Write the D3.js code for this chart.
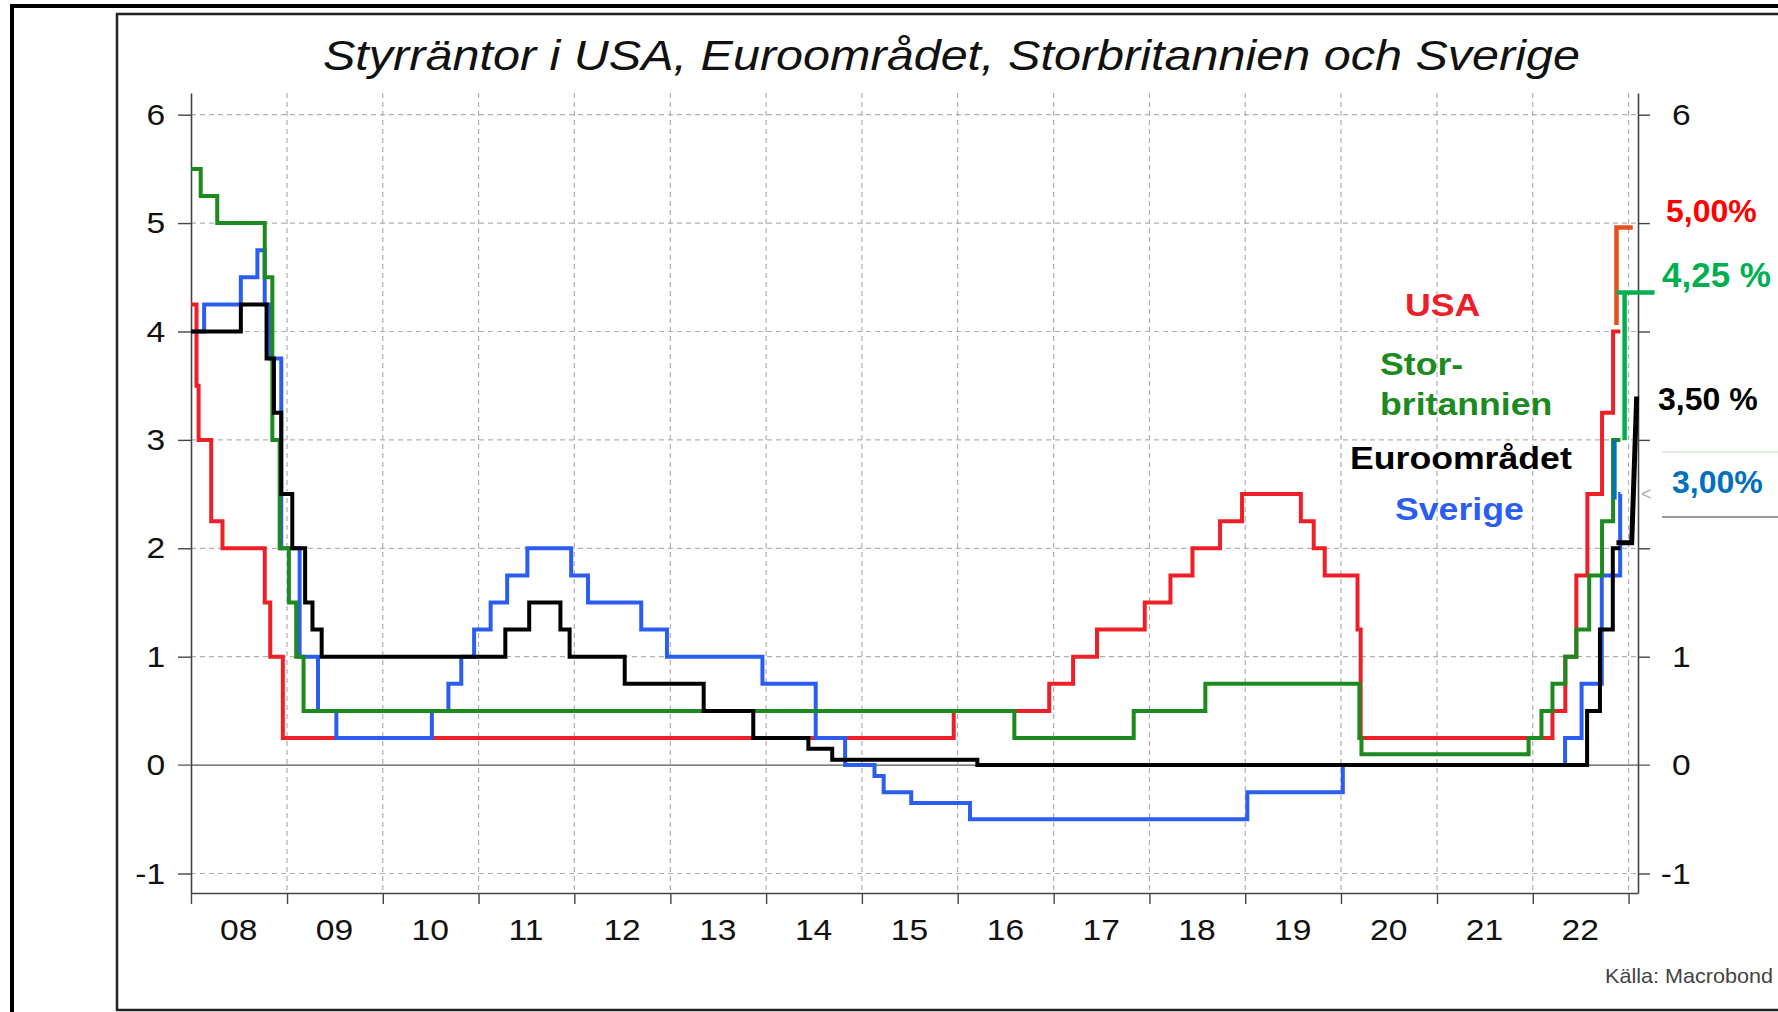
<!DOCTYPE html>
<html>
<head>
<meta charset="utf-8">
<script src="https://cdn.jsdelivr.net/npm/d3@7"></script>
<style>
  body { margin: 0; background: #fff; }
  text { font-family: "Liberation Sans", Arial, sans-serif; }
</style>
</head>
<body>
<script>
// Styrräntor (trappsteg: datum då räntan ändrades, ny nivå)
var usaDates = ["2008-01-01","2008-01-22","2008-01-30","2008-03-18","2008-04-30","2008-10-08","2008-10-29","2008-12-16",
    "2015-12-17","2016-12-15","2017-03-16","2017-06-15","2017-12-14","2018-03-22","2018-06-14","2018-09-27","2018-12-20",
    "2019-08-01","2019-09-19","2019-10-31","2020-03-04","2020-03-16","2022-03-17","2022-05-05","2022-06-16","2022-07-28",
    "2022-09-22","2022-11-03"];
var usaValues = [4.25,3.5,3.0,2.25,2.0,1.5,1.0,0.25,
    0.5,0.75,1.0,1.25,1.5,1.75,2.0,2.25,2.5,
    2.25,2.0,1.75,1.25,0.25,0.5,1.0,1.75,2.5,
    3.25,4.0];

var ukDates = ["2008-01-01","2008-02-07","2008-04-10","2008-10-08","2008-11-06","2008-12-04","2009-01-08","2009-02-05",
    "2009-03-05","2016-08-04","2017-11-02","2018-08-02","2020-03-11","2020-03-19","2021-12-16","2022-02-03","2022-03-17",
    "2022-05-05","2022-06-16","2022-08-04","2022-09-22","2022-11-03"];
var ukValues = [5.5,5.25,5.0,4.5,3.0,2.0,1.5,1.0,
    0.5,0.25,0.5,0.75,0.25,0.1,0.25,0.5,0.75,
    1.0,1.25,1.75,2.25,3.0];

var euroDates = ["2008-01-01","2008-07-09","2008-10-15","2008-11-12","2008-12-10","2009-01-21","2009-03-11","2009-04-08",
    "2009-05-13","2011-04-13","2011-07-13","2011-11-09","2011-12-14","2012-07-11","2013-05-08","2013-11-13","2014-06-11",
    "2014-09-10","2016-03-16","2022-07-27","2022-09-14","2022-11-02"];
var euroValues = [4.0,4.25,3.75,3.25,2.5,2.0,1.5,1.25,
    1.0,1.25,1.5,1.25,1.0,0.75,0.5,0.25,0.15,
    0.05,0.0,0.5,1.25,2.0];

var sweDates = ["2008-01-01","2008-02-20","2008-07-09","2008-09-10","2008-10-08","2008-10-29","2008-12-10","2009-02-18",
    "2009-04-29","2009-07-08","2010-07-07","2010-09-08","2010-10-27","2010-12-15","2011-02-16","2011-04-20","2011-07-06",
    "2011-12-20","2012-02-22","2012-09-12","2012-12-19","2013-12-18","2014-07-09","2014-10-29","2015-02-18","2015-03-25",
    "2015-07-08","2016-02-17","2019-01-09","2020-01-08","2022-05-04","2022-07-06","2022-09-21","2022-11-30"];
var sweValues = [4.0,4.25,4.5,4.75,4.25,3.75,2.0,1.0,
    0.5,0.25,0.5,0.75,1.0,1.25,1.5,1.75,2.0,
    1.75,1.5,1.25,1.0,0.75,0.25,0.0,-0.1,-0.25,
    -0.35,-0.5,-0.25,0.0,0.25,0.75,1.75,2.5];

var lastDate = "2022-12-01";

// Handritade tillägg med senaste nivåer
var usaNoteDates = ["2022-11-16","2022-11-16","2023-01-17"];
var usaNoteValues = [4.06, 4.96, 4.96];
var ukNoteDates = ["2022-12-17","2022-12-17","2022-11-16","2023-04-10"];
var ukNoteValues = [3.0, 4.36, 4.36, 4.36];
var euroNoteDates = ["2022-11-16","2023-01-13","2023-02-01"];
var euroNoteValues = [2.05, 2.05, 3.4];
var sweNoteDates = ["2022-11-09","2022-11-09"];
var sweNoteValues = [2.45, 3.0];

var yTicks = [-1, 0, 1, 2, 3, 4, 5, 6];
var yGrid = [-1, 1, 2, 3, 4, 5, 6];
var rightLabels = [-1, 0, 1, 6];
var yearTicks = d3.range(2008, 2024);
var yearLabels = ["08","09","10","11","12","13","14","15","16","17","18","19","20","21","22"];

var parse = d3.timeParse("%Y-%m-%d");

function steps(dates, values) {
    var pts = dates.map(function(d, i) { return { date: parse(d), value: values[i] }; });
    pts.push({ date: parse(lastDate), value: values[values.length - 1] });
    return pts;
}
function points(dates, values) {
    return dates.map(function(d, i) { return { date: parse(d), value: values[i] }; });
}
// vanligt bindestreck som minustecken, som i originalet
function fmt(d) { return String(d); }

var width = 1778, height = 1012;
var plotLeft = 191, plotRight = 1638, plotTop = 93, plotBottom = 893;

var svg = d3.select("body").append("svg")
    .attr("width", width)
    .attr("height", height);

// Ramar
svg.append("rect")
    .attr("x", 12).attr("y", 6).attr("width", 1800).attr("height", 1100)
    .attr("fill", "none").attr("stroke", "#000").attr("stroke-width", 4);
svg.append("rect")
    .attr("x", 117).attr("y", 14).attr("width", 1800).attr("height", 996)
    .attr("fill", "none").attr("stroke", "#222").attr("stroke-width", 2.5);

var x = d3.scaleTime()
    .domain([parse("2008-01-01"), parse("2023-02-06")])
    .range([plotLeft, plotRight]);

var y = d3.scaleLinear()
    .domain([-1.18, 6.2])
    .range([plotBottom, plotTop]);

// Rutnät
svg.append("g").selectAll("line")
    .data(yGrid)
    .enter().append("line")
    .attr("x1", plotLeft).attr("x2", plotRight)
    .attr("y1", function(d) { return y(d); })
    .attr("y2", function(d) { return y(d); })
    .attr("stroke", "#b0b0b0").attr("stroke-width", 1.2)
    .attr("stroke-dasharray", "5,4");

svg.append("g").selectAll("line")
    .data(yearTicks.slice(1))
    .enter().append("line")
    .attr("x1", function(d) { return x(new Date(d, 0, 1)); })
    .attr("x2", function(d) { return x(new Date(d, 0, 1)); })
    .attr("y1", plotTop).attr("y2", plotBottom)
    .attr("stroke", "#b0b0b0").attr("stroke-width", 1.2)
    .attr("stroke-dasharray", "5,4");

// Nollinje
svg.append("line")
    .attr("x1", plotLeft - 13).attr("x2", plotRight + 12)
    .attr("y1", y(0)).attr("y2", y(0))
    .attr("stroke", "#555").attr("stroke-width", 1.3);

// Y-axlar
var yLeft = svg.append("g")
    .attr("transform", "translate(" + plotLeft + ",0)")
    .call(d3.axisLeft(y).tickValues(yTicks).tickSize(13).tickSizeOuter(0).tickPadding(10).tickFormat(fmt));

var yRight = svg.append("g")
    .attr("transform", "translate(" + plotRight + ",0)")
    .call(d3.axisRight(y).tickValues(yTicks).tickSize(12).tickSizeOuter(0)
        .tickFormat(function(d) { return rightLabels.indexOf(d) >= 0 ? fmt(d) : ""; }));

yRight.selectAll("text")
    .attr("x", 47)
    .attr("text-anchor", "end");

// X-axel
var xAxis = svg.append("g")
    .attr("transform", "translate(0," + plotBottom + ")")
    .call(d3.axisBottom(x)
        .tickValues(yearTicks.map(function(d) { return new Date(d, 0, 1); }))
        .tickSize(11).tickSizeOuter(0).tickFormat(""));

[yLeft, yRight, xAxis].forEach(function(g) {
    g.select(".domain").attr("stroke", "#444").attr("stroke-width", 1.6);
    g.selectAll(".tick line").attr("stroke", "#444").attr("stroke-width", 1.4);
    g.selectAll("text")
        .style("font-size", "30px")
        .style("font-family", "'Liberation Sans', Arial, sans-serif")
        .attr("fill", "#111")
        .attr("transform", "scale(1.12,1)");
});
yLeft.selectAll(".tick").filter(function(d) { return d === 0; }).select("line").remove();
yRight.selectAll(".tick").filter(function(d) { return d === 0; }).select("line").remove();

svg.append("g").selectAll("text")
    .data(yearLabels)
    .enter().append("text")
    .attr("transform", function(d, i) {
        return "translate(" + x(new Date(2008 + i, 6, 1)) + ",940) scale(1.12,1)";
    })
    .attr("text-anchor", "middle")
    .style("font-size", "30px")
    .attr("fill", "#111")
    .text(function(d) { return d; });

// Serier
var line = d3.line()
    .x(function(d) { return x(d.date); })
    .y(function(d) { return y(d.value); })
    .curve(d3.curveStepAfter);

var series = [
    { pts: steps(usaDates, usaValues), color: "#ee2027" },
    { pts: steps(sweDates, sweValues), color: "#2b5ef0" },
    { pts: steps(ukDates, ukValues), color: "#1c8a1f" },
    { pts: steps(euroDates, euroValues), color: "#000" }
];

series.forEach(function(s) {
    svg.append("path")
        .datum(s.pts)
        .attr("d", line)
        .attr("fill", "none")
        .attr("stroke", s.color)
        .attr("stroke-width", 4);
});

// Handritade tillägg
var plain = d3.line()
    .x(function(d) { return x(d.date); })
    .y(function(d) { return y(d.value); });

var notes = [
    { pts: points(sweNoteDates, sweNoteValues), color: "#0070c0", w: 4 },
    { pts: points(usaNoteDates, usaNoteValues), color: "#e4501e", w: 4.5 },
    { pts: points(ukNoteDates.slice(0, 2), ukNoteValues.slice(0, 2)), color: "#00b050", w: 4.5 },
    { pts: points(ukNoteDates.slice(2), ukNoteValues.slice(2)), color: "#00b050", w: 4.5 },
    { pts: points(euroNoteDates, euroNoteValues), color: "#000", w: 5 }
];
notes.forEach(function(n) {
    svg.append("path")
        .datum(n.pts)
        .attr("d", plain)
        .attr("fill", "none")
        .attr("stroke", n.color)
        .attr("stroke-width", n.w);
});

// Titel
svg.append("text")
    .attr("x", 323)
    .attr("y", 70)
    .attr("textLength", 1257)
    .attr("lengthAdjust", "spacingAndGlyphs")
    .style("font-size", "42px")
    .style("font-style", "italic")
    .attr("fill", "#111")
    .text("Styrräntor i USA, Euroområdet, Storbritannien och Sverige");

// Etiketter för serierna
var legend = [
    { text: "USA", x: 1405, y: 316, color: "#ee2027" },
    { text: "Stor-", x: 1380, y: 375, color: "#1c8a1f" },
    { text: "britannien", x: 1380, y: 415, color: "#1c8a1f" },
    { text: "Euroområdet", x: 1350, y: 469, color: "#000" },
    { text: "Sverige", x: 1395, y: 520, color: "#2b5ef0" }
];
svg.append("g").selectAll("text")
    .data(legend)
    .enter().append("text")
    .attr("transform", function(d) { return "translate(" + d.x + "," + d.y + ") scale(1.15,1)"; })
    .style("font-size", "31px")
    .style("font-weight", "bold")
    .attr("fill", function(d) { return d.color; })
    .text(function(d) { return d.text; });

// Ruta kring 3,00%
svg.append("line")
    .attr("x1", 1662).attr("x2", 1778).attr("y1", 452).attr("y2", 452)
    .attr("stroke", "#d3e6d3").attr("stroke-width", 1.5);
svg.append("line")
    .attr("x1", 1662).attr("x2", 1778).attr("y1", 517).attr("y2", 517)
    .attr("stroke", "#999").attr("stroke-width", 2);
svg.append("text")
    .attr("x", 1641).attr("y", 500)
    .style("font-size", "18px")
    .attr("fill", "#aaa")
    .text("<");

// Senaste nivåer
var latest = [
    { text: "5,00%", x: 1666, y: 222, size: 32, color: "#ff0000" },
    { text: "4,25 %", x: 1662, y: 287, size: 35, color: "#00b050" },
    { text: "3,50 %", x: 1658, y: 410, size: 32, color: "#000" },
    { text: "3,00%", x: 1672, y: 493, size: 32, color: "#0070c0" }
];
svg.append("g").selectAll("text")
    .data(latest)
    .enter().append("text")
    .attr("x", function(d) { return d.x; })
    .attr("y", function(d) { return d.y; })
    .style("font-size", function(d) { return d.size + "px"; })
    .style("font-weight", "bold")
    .attr("fill", function(d) { return d.color; })
    .text(function(d) { return d.text; });

// Källa
svg.append("text")
    .attr("transform", "translate(1605,983) scale(1.08,1)")
    .style("font-size", "20px")
    .attr("fill", "#444")
    .text("Källa: Macrobond");
</script>
</body>
</html>
